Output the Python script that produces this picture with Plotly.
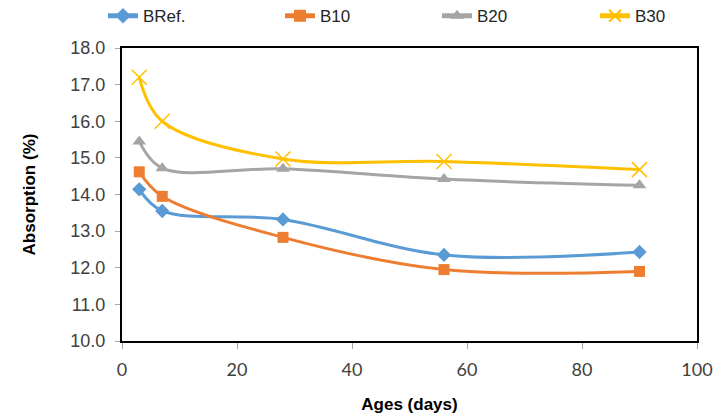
import plotly.graph_objects as go

ages = [3, 7, 28, 56, 90]
bref = [14.14, 13.55, 13.32, 12.35, 12.43]
b10 = [14.62, 13.95, 12.83, 11.95, 11.90]
b20 = [15.45, 14.72, 14.70, 14.42, 14.25]
b30 = [17.20, 16.00, 14.97, 14.90, 14.68]

names = ["BRef.", "B10", "B20", "B30"]
colors = ["#5B9BD5", "#ED7D31", "#A5A5A5", "#FFC000"]
symbols = ["diamond", "square", "triangle-up", "x-thin"]
sizes = [11, 11, 12, 15]
legend_text_px = [143, 320, 477, 635]

PLOT_L, PLOT_W = 122, 575
legend_ids = ["legend", "legend2", "legend3", "legend4"]

fig = go.Figure()
for name, vals, c, s, sz, lid in zip(names, [bref, b10, b20, b30], colors, symbols, sizes, legend_ids):
    marker = dict(symbol=s, size=sz, color=c)
    if s == "x-thin":
        marker["line"] = dict(color=c, width=1.5)
    fig.add_trace(go.Scatter(
        x=ages, y=vals, name=name, mode="lines+markers",
        line=dict(color=c, width=3, shape="spline", smoothing=1.0),
        marker=marker, legend=lid, showlegend=True,
    ))

legend_layout = {}
for lid, tx in zip(legend_ids, legend_text_px):
    legend_layout[lid] = dict(
        orientation="h", x=(tx - 40 - PLOT_L) / PLOT_W, y=1.17,
        xanchor="left", yanchor="top",
        font=dict(size=17, color="#262626", family="Liberation Sans, Arial"),
        bgcolor="rgba(0,0,0,0)", itemsizing="constant",
    )

fig.update_layout(
    width=713, height=417,
    showlegend=True,
    margin=dict(l=122, r=16, t=48, b=76, autoexpand=False),
    plot_bgcolor="white", paper_bgcolor="white",
    font=dict(family="Liberation Sans, Arial", color="#404040"),
    xaxis=dict(
        range=[-0.0001, 100.0001], tickvals=[0, 20, 40, 60, 80, 100],
        ticklabeloverflow="allow",
        showgrid=False, zeroline=False,
        showline=True, linecolor="black", linewidth=2, mirror=True,
        ticks="outside", ticklen=6, tickcolor="#A6A6A6", tickwidth=1,
        ticklabelstandoff=5,
        tickfont=dict(size=18, family="Lato, Open Sans", color="#404040"),
        title=dict(text="<b>Ages (days)</b>", font=dict(size=17, color="#000000", family="Liberation Sans, Arial"), standoff=20),
    ),
    yaxis=dict(
        range=[10, 18], dtick=1, tick0=10, tickformat=".1f",
        showgrid=False, zeroline=False,
        showline=True, linecolor="black", linewidth=2, mirror=True,
        ticks="outside", ticklen=5, tickcolor="#A6A6A6", tickwidth=1,
        ticklabelstandoff=6,
        tickfont=dict(size=18, color="#404040"),
        title=dict(text="<b>Absorption (%)</b>", font=dict(size=17, color="#000000"), standoff=30),
    ),
    **legend_layout,
)

fig.write_html("out.html")
